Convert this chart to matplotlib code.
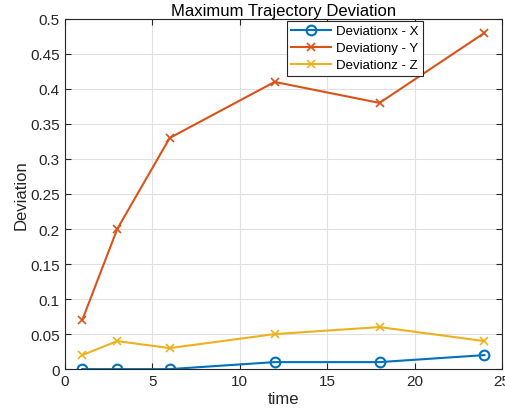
import matplotlib.pyplot as plt

plt.rcParams['font.family'] = ['Liberation Sans', 'DejaVu Sans']

time = [1, 3, 6, 12, 18, 24]
dev_x = [0, 0, 0, 0.01, 0.01, 0.02]
dev_y = [0.07, 0.2, 0.33, 0.41, 0.38, 0.48]
dev_z = [0.02, 0.04, 0.03, 0.05, 0.06, 0.04]
labels = ['Deviationx - X', 'Deviationy - Y', 'Deviationz - Z']

fig = plt.figure(figsize=(5.06, 4.14), dpi=100)
ax = fig.add_axes([0.128, 0.106, 0.864, 0.846])

ax.plot(time, dev_x, color='#0072BD', marker='o', markersize=7, markerfacecolor='none',
        markeredgewidth=1.5, linewidth=1.5, label=labels[0])
ax.plot(time, dev_y, color='#D95319', marker='x', markersize=6, markeredgewidth=1.2,
        linewidth=1.5, label=labels[1])
ax.plot(time, dev_z, color='#EDB120', marker='x', markersize=6, markeredgewidth=1.2,
        linewidth=1.5, label=labels[2])

ax.set_xlim(0, 25)
ax.set_ylim(0, 0.5)
ax.set_xticks([0, 5, 10, 15, 20, 25])
ax.set_yticks([0, 0.05, 0.1, 0.15, 0.2, 0.25, 0.3, 0.35, 0.4, 0.45, 0.5])
ax.set_yticklabels(['0', '0.05', '0.1', '0.15', '0.2', '0.25', '0.3', '0.35', '0.4', '0.45', '0.5'])
ax.grid(True, color='#e0e0e0', linewidth=0.8)
ax.set_axisbelow(True)
ax.tick_params(direction='in', labelsize=11, colors='#262626', length=4,
               top=True, right=True)
for s in ax.spines.values():
    s.set_color('#262626')
    s.set_linewidth(0.8)

ax.set_xlabel('time', fontsize=12, color='#262626', labelpad=2)
ax.set_ylabel('Deviation', fontsize=12, color='#262626', labelpad=1)
ax.set_title('Maximum Trajectory Deviation', fontsize=12, color='black', pad=3)

leg = ax.legend(loc='upper left', bbox_to_anchor=(0.508, 0.995), fontsize=9.5,
                fancybox=False, framealpha=1, edgecolor='#262626', borderpad=0.35,
                labelspacing=0.35, handlelength=3, handletextpad=0.4, borderaxespad=0)
leg.get_frame().set_linewidth(0.8)

fig.savefig('out.png', dpi=100)
